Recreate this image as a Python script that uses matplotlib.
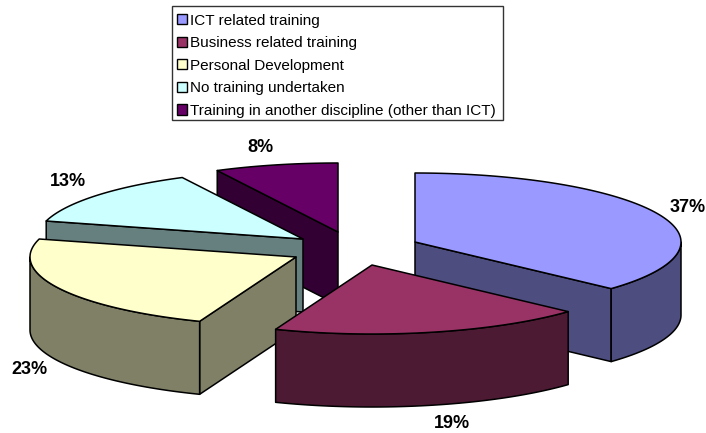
import numpy as np
import matplotlib
matplotlib.use("Agg")
import matplotlib.pyplot as plt
from matplotlib.patches import Polygon, Patch, Rectangle

plt.rcParams['font.family'] = ['Liberation Sans', 'DejaVu Sans']

categories = ["ICT related training", "Business related training", "Personal Development",
              "No training undertaken", "Training in another discipline (other than ICT)"]
values = [36.8, 19.1, 23.3, 13.3, 7.5]
value_labels = ["37%", "19%", "23%", "13%", "8%"]
top_colors = ["#9999FF", "#993366", "#FFFFCC", "#CCFFFF", "#660066"]
side_colors = ["#4D4D80", "#4D1A33", "#808066", "#668080", "#330033"]

# layout (pixels)
apex_x = [415, 372, 296, 303, 338]
apex_y = [242, 265, 257, 239, 232]
label_x = [688, 452, 29, 68, 260]
label_y = [207, 424, 370, 181, 147]
rx, ry, depth = 266, 69, 73
draw_order = [4, 3, 2, 0, 1]

fig = plt.figure(figsize=(7.06, 4.33), dpi=100)
ax = fig.add_axes([0, 0, 1, 1])
ax.set_xlim(0, 706)
ax.set_ylim(433, 0)
ax.axis("off")

fractions = np.array(values) / sum(values)
edges = 90 - 360 * np.concatenate([[0], np.cumsum(fractions)])


def rim(x0, y0, t1, t2, dy=0):
    t = np.radians(np.linspace(t1, t2, 120))
    return np.column_stack([x0 + rx * np.cos(t), y0 - ry * np.sin(t) + dy])


def poly(pts, color):
    ax.add_patch(Polygon(pts, closed=True, facecolor=color, edgecolor="black",
                         linewidth=1.1, joinstyle="round"))


for i in draw_order:
    x0, y0 = apex_x[i], apex_y[i]
    t1, t2 = edges[i], edges[i + 1]   # t decreases (clockwise)
    # cut faces turned towards the viewer
    for t, sign in ((t1, -1), (t2, 1)):
        if sign * np.cos(np.radians(t)) > 1e-6:
            e = rim(x0, y0, t, t)[0]
            poly([(x0, y0), e, (e[0], e[1] + depth), (x0, y0 + depth)], side_colors[i])
    # outer wall, only for the part of the rim at the front
    a, b = max(t2, -180), min(t1, 0)
    if b > a:
        poly(np.vstack([rim(x0, y0, b, a), rim(x0, y0, a, b, depth)]), side_colors[i])
    # top
    poly(np.vstack([[(x0, y0)], rim(x0, y0, t1, t2)]), top_colors[i])

for lx, ly, s in zip(label_x, label_y, value_labels):
    ax.text(lx, ly, s, ha="center", va="center", fontsize=13, fontweight="bold", color="black")

ax.add_patch(Rectangle((172, 6), 331, 114, facecolor="white", edgecolor="#333333",
                       linewidth=1, zorder=9))
handles = [Patch(facecolor=c, edgecolor="black", linewidth=1) for c in top_colors]
leg = ax.legend(handles, categories, loc="upper left", bbox_to_anchor=(172, 9),
                bbox_transform=ax.transData, borderaxespad=0, fontsize=11,
                frameon=False,
                handlelength=0.65, handleheight=0.65, handletextpad=0.26,
                labelspacing=0.56, borderpad=0.3)
leg.set_zorder(10)

fig.savefig("out.png", dpi=100, facecolor="white")
